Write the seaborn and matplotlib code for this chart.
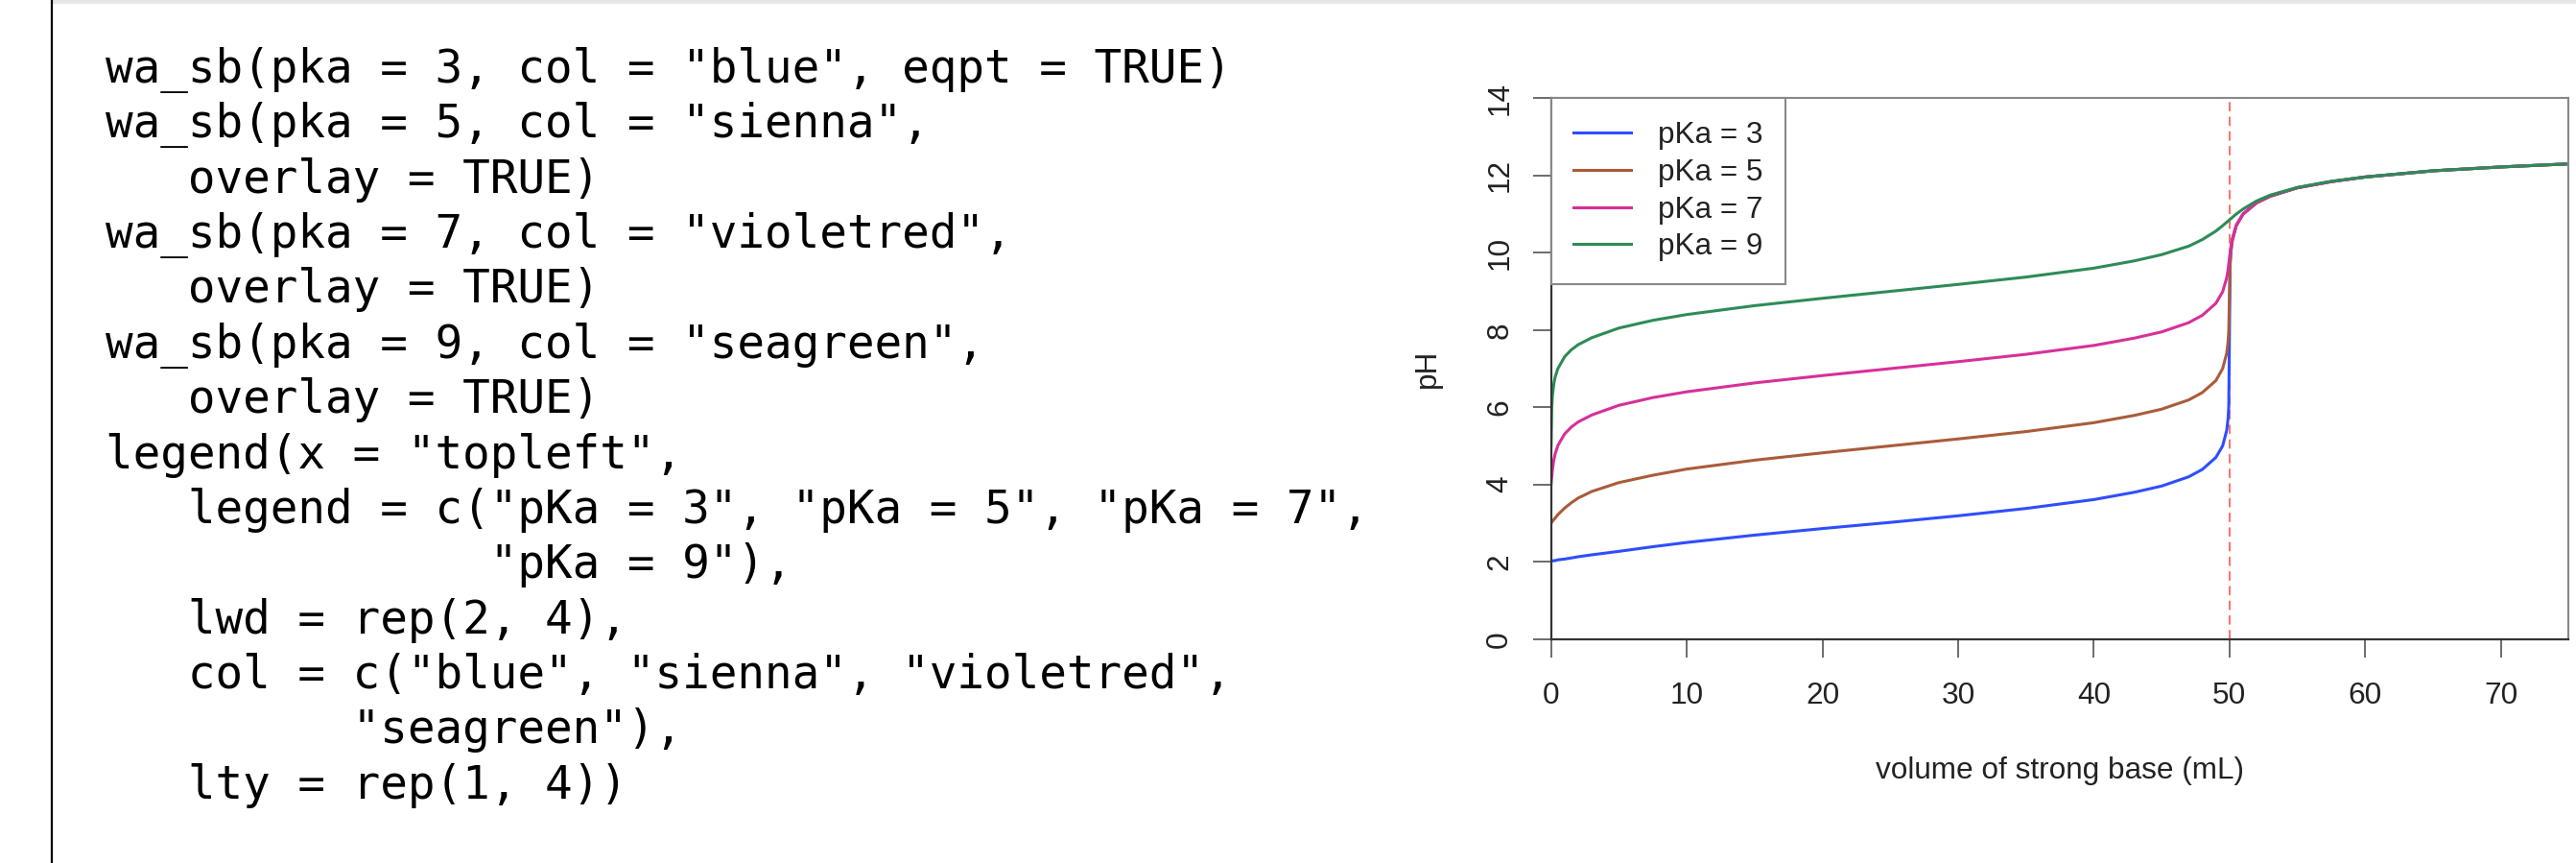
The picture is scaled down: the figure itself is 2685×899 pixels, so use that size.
import matplotlib
matplotlib.use("Agg")
import matplotlib.pyplot as plt
from matplotlib.lines import Line2D
from matplotlib.patches import Rectangle
import numpy as np
import pandas as pd
import seaborn as sns

# ---------------- data ----------------
volume_ml = [0, 0.05, 0.1, 0.2, 0.3, 0.5, 1, 1.5, 2, 3, 5, 7.5, 10, 15, 20, 25,
             30, 35, 40, 43, 45, 47, 48, 49, 49.5, 49.8, 49.9, 49.95, 50, 50.05,
             50.1, 50.2, 50.5, 51, 52, 53, 55, 57.5, 60, 65, 70, 75]

ph_pka3 = [2.02, 2.02, 2.02, 2.03, 2.03, 2.05, 2.07, 2.10, 2.13, 2.18, 2.27, 2.39,
           2.50, 2.69, 2.86, 3.02, 3.19, 3.38, 3.61, 3.80, 3.96, 4.20, 4.39, 4.70,
           5.00, 5.40, 5.71, 6.01, 7.85, 9.70, 10.00, 10.30, 10.70, 11.00, 11.29,
           11.46, 11.68, 11.84, 11.96, 12.12, 12.22, 12.30]

ph_pka5 = [3.00, 3.02, 3.05, 3.09, 3.13, 3.22, 3.39, 3.53, 3.65, 3.82, 4.05, 4.24,
           4.40, 4.63, 4.82, 5.00, 5.18, 5.37, 5.60, 5.79, 5.95, 6.19, 6.38, 6.69,
           7.00, 7.40, 7.70, 7.99, 8.85, 9.71, 10.00, 10.30, 10.70, 11.00, 11.29,
           11.46, 11.68, 11.84, 11.96, 12.12, 12.22, 12.30]

ph_pka7 = [4.00, 4.21, 4.38, 4.63, 4.79, 5.01, 5.31, 5.49, 5.62, 5.80, 6.05, 6.25,
           6.40, 6.63, 6.82, 7.00, 7.18, 7.37, 7.60, 7.79, 7.95, 8.19, 8.38, 8.69,
           8.99, 9.35, 9.56, 9.70, 9.85, 10.00, 10.14, 10.35, 10.71, 11.00, 11.30,
           11.47, 11.68, 11.84, 11.96, 12.12, 12.22, 12.30]

ph_pka9 = [5.00, 6.00, 6.30, 6.60, 6.78, 7.00, 7.31, 7.49, 7.62, 7.80, 8.05, 8.25,
           8.40, 8.63, 8.82, 9.00, 9.18, 9.37, 9.60, 9.79, 9.95, 10.17, 10.34, 10.56,
           10.70, 10.79, 10.82, 10.83, 10.85, 10.87, 10.88, 10.91, 11.00, 11.13, 11.34,
           11.49, 11.69, 11.85, 11.96, 12.12, 12.22, 12.30]

series_labels = ["pKa = 3", "pKa = 5", "pKa = 7", "pKa = 9"]
line_colors = ["#2f4dff", "#a95c3a", "#d6309a", "#2e8b57"]
equivalence_volume = 50
x_ticks = [0, 10, 20, 30, 40, 50, 60, 70]
y_ticks = [0, 2, 4, 6, 8, 10, 12, 14]
x_label = "volume of strong base (mL)"
y_label = "pH"

code_lines = [
    'wa_sb(pka = 3, col = "blue", eqpt = TRUE)',
    'wa_sb(pka = 5, col = "sienna",',
    '   overlay = TRUE)',
    'wa_sb(pka = 7, col = "violetred",',
    '   overlay = TRUE)',
    'wa_sb(pka = 9, col = "seagreen",',
    '   overlay = TRUE)',
    'legend(x = "topleft",',
    '   legend = c("pKa = 3", "pKa = 5", "pKa = 7",',
    '              "pKa = 9"),',
    '   lwd = rep(2, 4),',
    '   col = c("blue", "sienna", "violetred",',
    '         "seagreen"),',
    '   lty = rep(1, 4))',
]

# ---------------- figure ----------------
plt.rcParams["font.family"] = ["Liberation Sans", "DejaVu Sans"]
plt.rcParams["lines.scale_dashes"] = False

W, H = 2685, 899
fig = plt.figure(figsize=(W / 100, H / 100), dpi=100)
fig.patch.set_facecolor("white")

# slide decorations
fig.add_artist(Rectangle((54 / W, 1 - 4 / H), 1, 4 / H, transform=fig.transFigure,
                         facecolor="#e6e6e6", edgecolor="none"))
fig.add_artist(Line2D([54 / W, 54 / W], [0, 1], transform=fig.transFigure,
                      color="black", lw=1.6))

# code text
for i, line in enumerate(code_lines):
    fig.text(110 / W, 1 - (86 + i * 57.36) / H, line, family="DejaVu Sans Mono",
             fontsize=34.3, va="baseline", ha="left", color="black")

# plot
left, right = 1616.7 / W, 2677.3 / W
bottom, top = 1 - 665.7 / H, 1 - 102.3 / H
ax = fig.add_axes([left, bottom, right - left, top - bottom])

frames = []
for lab, vals in zip(series_labels, [ph_pka3, ph_pka5, ph_pka7, ph_pka9]):
    frames.append(pd.DataFrame({"volume": volume_ml, "pH": vals, "series": lab}))
df = pd.concat(frames, ignore_index=True)

sns.lineplot(data=df, x="volume", y="pH", hue="series", hue_order=series_labels,
             palette=dict(zip(series_labels, line_colors)), estimator=None,
             sort=False, linewidth=2.2, ax=ax, legend=False)

ax.axvline(equivalence_volume, color="#ff6e6e", lw=1.4, linestyle=(0, (7, 4)),
           zorder=1.5)

ax.set_xlim(0, 75)
ax.set_ylim(0, 14)
ax.set_xticks(x_ticks)
ax.set_yticks(y_ticks)
ax.tick_params(axis="both", direction="out", length=13.7, width=1.1,
               color="#444444", labelsize=22.7, labelcolor="#222222")
ax.tick_params(axis="x", pad=18)
ax.tick_params(axis="y", pad=14)
for t in ax.get_yticklabels():
    t.set_rotation(90)
    t.set_va("center")

for s in ["left", "bottom"]:
    ax.spines[s].set_color("#333333")
    ax.spines[s].set_linewidth(1.6)
for s in ["top", "right"]:
    ax.spines[s].set_color("#888888")
    ax.spines[s].set_linewidth(1.5)

ax.set_xlabel(x_label, fontsize=22.7, color="#222222")
ax.xaxis.set_label_coords(0.5, ((H - 803) / H - bottom) / (top - bottom))
ax.xaxis.label.set_va("center")
ax.set_ylabel(y_label, fontsize=22.7, color="#222222")
ax.yaxis.set_label_coords((1488 / W - left) / (right - left), 0.5)
ax.yaxis.label.set_va("center")

handles = [Line2D([0], [0], color=c, lw=2.2) for c in line_colors]
leg = ax.legend(handles, series_labels, loc="upper left", bbox_to_anchor=(0, 1),
                borderaxespad=0, frameon=True, fancybox=False, framealpha=1,
                edgecolor="#888888", fontsize=22.7, handlelength=1.9,
                handletextpad=0.88, borderpad=0.75, labelspacing=0.28)
leg.get_frame().set_linewidth(1.5)
for t in leg.get_texts():
    t.set_color("#222222")

fig.savefig("out.png", dpi=100, facecolor="white")
